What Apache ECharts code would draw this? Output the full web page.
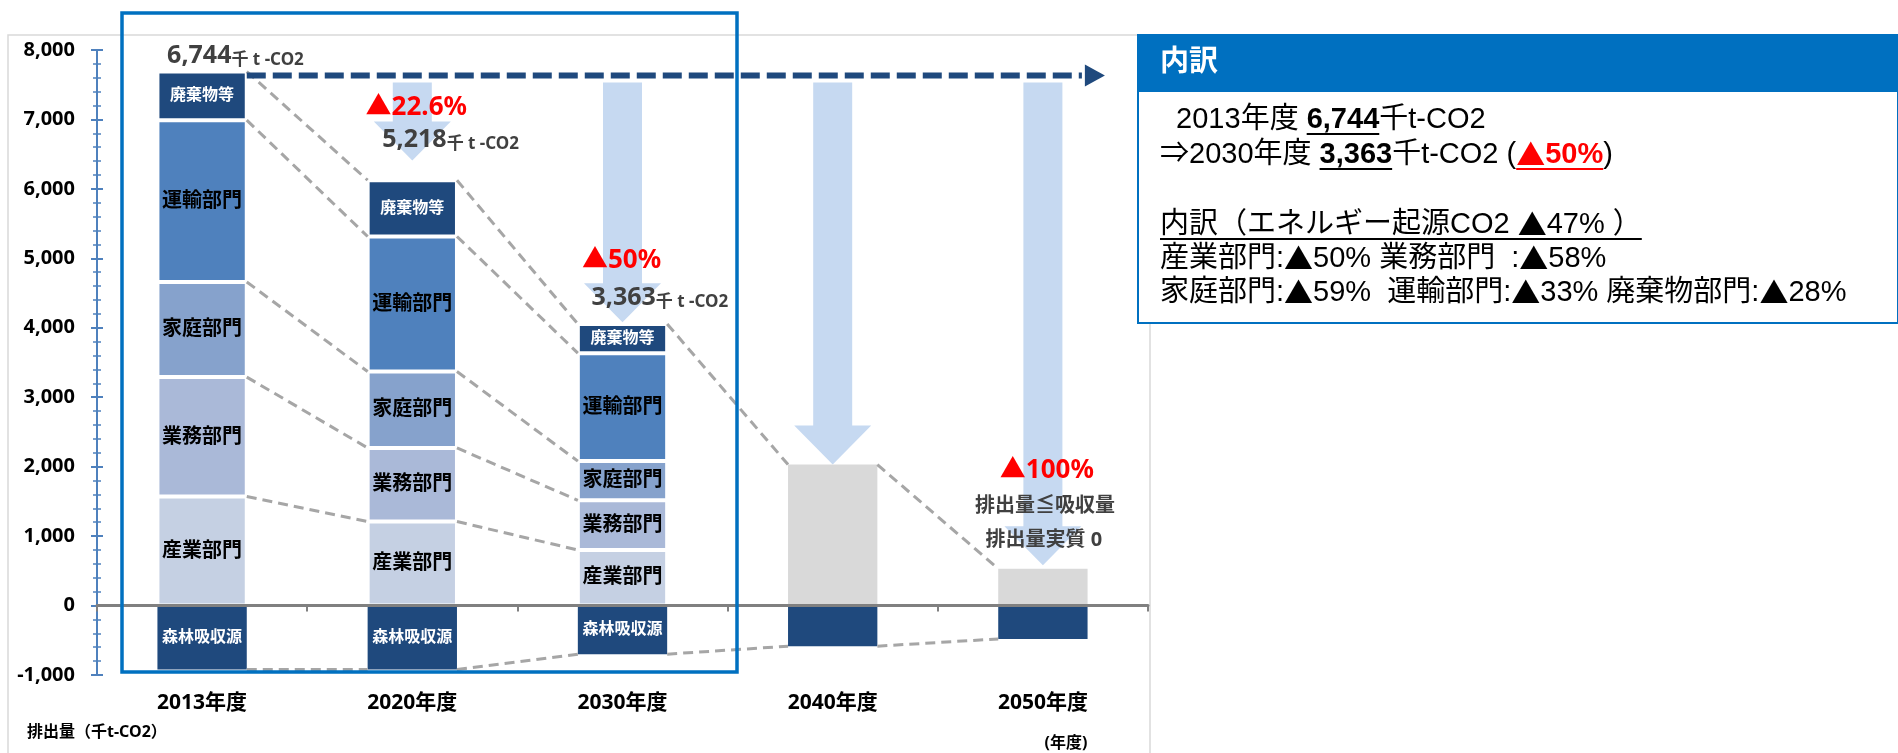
<!DOCTYPE html>
<html>
<head>
<meta charset="utf-8">
<title>排出量の推移</title>
<script src="https://cdn.jsdelivr.net/npm/echarts@6/dist/echarts.min.js"></script>
<style>
  html, body { margin: 0; padding: 0; background: #fff; }
  #main { width: 1898px; height: 753px; }
</style>
</head>
<body>
<div id="main"></div>
<script>
// 年度
var categories = ['2013年度', '2020年度', '2030年度', '2040年度', '2050年度'];
// 部門別排出量（千t-CO2）
var sangyo = [1570, 1210, 800, '-', '-'];
var gyomu = [1720, 1060, 715, '-', '-'];
var katei = [1370, 1100, 565, '-', '-'];
var unyu = [2330, 1945, 1555, '-', '-'];
var haiki = [700, 810, 420, '-', '-'];
// 2040・2050年度（内訳なし）
var future = ['-', '-', '-', 2030, 530];
// 森林吸収源
var shinrin = [-920, -920, -700, -585, -480];
// 削減矢印の先端
var arrowTip = [null, 6410, 4080, 2030, 580];
// 注記
var netTotals = ['6,744', '5,218', '3,363', '', ''];
var cutRates = ['', '▲22.6%', '▲50%', '', '▲100%'];
var zeroNotes = ['排出量≦吸収量', '排出量実質 0'];
// y軸
var yMin = -1000, yMax = 8000, yStep = 1000;

var FONT = "'Noto Sans', 'Noto Sans CJK JP', sans-serif";
var barRatio = 0.425;
var segments = [sangyo, gyomu, katei, unyu, haiki];

function isNum(v) { return typeof v === 'number'; }

// 積み上げの各上端
function cumTops(i) {
  var tops = [], s = 0;
  for (var k = 0; k < segments.length; k++) {
    if (isNum(segments[k][i])) { s += segments[k][i]; tops.push(s); }
  }
  if (isNum(future[i])) tops.push(future[i]);
  return tops;
}
function gross(i) { var t = cumTops(i); return t[t.length - 1]; }

// 点線の接続線
var connectors = [];
for (var i = 0; i < categories.length - 1; i++) {
  var a = cumTops(i), b = cumTops(i + 1);
  if (a.length === b.length) {
    for (var k = 0; k < a.length; k++) connectors.push([i, a[k], b[k]]);
  } else {
    connectors.push([i, a[a.length - 1], b[b.length - 1]]);
  }
  connectors.push([i, shinrin[i], shinrin[i + 1]]);
}

var arrowData = [];
var noteData = [];
for (var i = 0; i < categories.length; i++) {
  if (arrowTip[i] != null) arrowData.push([i, arrowTip[i]]);
  noteData.push([i, arrowTip[i] != null ? arrowTip[i] : gross(i)]);
}

// 注記の位置（カテゴリ中心・基準点からのずれ, px）
var totalPos = [[-35, -17], [-30, -22], [-31, -26]];
var cutPos = [null, [4, -53], [-1, -62], null, [4, -95]];
var notePos = [[2, -59], [1, -25]];

function baseLineY(api) {
  return api.coord([0, gross(0)])[1] + 4;
}

function renderArrow(params, api) {
  var i = api.value(0);
  var tip = api.coord([i, api.value(1)]);
  var top = baseLineY(api) + 7;
  var cx = tip[0], sw = 19.5, hw = 38.5, hl = 39;
  return {
    type: 'polygon',
    shape: {
      points: [[cx - sw, top], [cx + sw, top], [cx + sw, tip[1] - hl], [cx + hw, tip[1] - hl],
        [cx, tip[1]], [cx - hw, tip[1] - hl], [cx - sw, tip[1] - hl]]
    },
    style: { fill: '#c6d9f1' }
  };
}

function renderConnector(params, api) {
  var i = api.value(0);
  var half = api.size([1, 0])[0] * barRatio / 2;
  var p1 = api.coord([i, api.value(1)]);
  var p2 = api.coord([i + 1, api.value(2)]);
  return {
    type: 'line',
    shape: { x1: p1[0] + half, y1: p1[1], x2: p2[0] - half, y2: p2[1] },
    style: { stroke: '#a6a6a6', lineWidth: 3, lineDash: [10, 6] }
  };
}

function renderBaseLine(params, api) {
  var half = api.size([1, 0])[0] * barRatio / 2;
  var x0 = api.coord([0, 0])[0] + half;
  var x1 = api.coord([categories.length - 1, 0])[0] + 42;
  var y = baseLineY(api);
  return {
    type: 'group',
    children: [{
      type: 'line',
      shape: { x1: x0, y1: y, x2: x1 - 3, y2: y },
      style: { stroke: '#1f497d', lineWidth: 6, lineDash: [19, 7] }
    }, {
      type: 'polygon',
      shape: { points: [[x1, y - 11], [x1 + 20, y], [x1, y + 11]] },
      style: { fill: '#1f497d' }
    }]
  };
}

function renderNotes(params, api) {
  var i = api.value(0);
  var c = api.coord([i, api.value(1)]);
  var children = [];
  if (netTotals[i]) {
    children.push({
      type: 'text',
      x: c[0] + totalPos[i][0], y: c[1] + totalPos[i][1],
      style: {
        text: '{a|' + netTotals[i] + '}{b|千 t -CO2}',
        align: 'left', verticalAlign: 'middle',
        rich: {
          a: { fontFamily: FONT, fontWeight: 'bold', fontSize: 25, fill: '#404040', lineHeight: 28, verticalAlign: 'bottom' },
          b: { fontFamily: FONT, fontWeight: 'bold', fontSize: 17, fill: '#404040', lineHeight: 22, verticalAlign: 'bottom' }
        }
      }
    });
  }
  if (cutRates[i]) {
    children.push({
      type: 'text',
      x: c[0] + cutPos[i][0], y: c[1] + cutPos[i][1],
      style: {
        text: cutRates[i], align: 'center', verticalAlign: 'middle',
        fontFamily: FONT, fontWeight: 'bold', fontSize: 26, fill: '#ff0000'
      }
    });
  }
  if (i === categories.length - 1) {
    for (var n = 0; n < zeroNotes.length; n++) {
      children.push({
        type: 'text',
        x: c[0] + notePos[n][0], y: c[1] + notePos[n][1],
        style: {
          text: zeroNotes[n], align: 'center', verticalAlign: 'middle',
          fontFamily: FONT, fontWeight: 'bold', fontSize: 20, fill: '#404040'
        }
      });
    }
  }
  return { type: 'group', children: children };
}

function segSeries(name, data, color, labelColor, labelSize) {
  return {
    name: name,
    type: 'bar',
    stack: 'total',
    data: data,
    barWidth: (barRatio * 100) + '%',
    itemStyle: { color: color, borderColor: '#fff', borderWidth: 2 },
    label: {
      show: true, position: 'inside', formatter: name,
      color: labelColor, fontSize: labelSize, fontWeight: 'bold', fontFamily: FONT
    },
    z: 2
  };
}

// 右側の内訳パネル
function panelFont(bold, mark) {
  var fam = mark ? "'Noto Sans CJK JP', sans-serif" : "'Liberation Sans', 'Noto Sans CJK JP', sans-serif";
  return (bold ? 'bold ' : '') + '29px ' + fam;
}
// [文字, 太字, 赤, 下線]
var panelLines = [
  { y: 120, frags: [['  2013年度 ', 0, 0, 0], ['6,744', 1, 0, 1], ['千t-CO2', 0, 0, 0]] },
  { y: 155, frags: [['⇒2030年度 ', 0, 0, 0], ['3,363', 1, 0, 1], ['千t-CO2 (', 0, 0, 0], ['▲50%', 1, 1, 1], [')', 0, 0, 0]] },
  { y: 225, frags: [['内訳（エネルギー起源CO2 ▲47% ）', 0, 0, 1]] },
  { y: 259, frags: [['産業部門:▲50% 業務部門  :▲58%', 0, 0, 0]] },
  { y: 293, frags: [['家庭部門:▲59%  運輸部門:▲33% 廃棄物部門:▲28%', 0, 0, 0]] }
];
var measureCtx = document.createElement('canvas').getContext('2d');
function textWidth(str, font) {
  measureCtx.font = font;
  return measureCtx.measureText(str).width;
}

var graphics = [
  // グラフ外枠
  { type: 'rect', shape: { x: 8, y: 35, width: 1142, height: 740 }, style: { fill: null, stroke: '#d9d9d9', lineWidth: 1.5 }, z: 0 },
  // 強調枠
  { type: 'rect', shape: { x: 122, y: 13, width: 615, height: 659 }, style: { fill: null, stroke: '#0070c0', lineWidth: 3.5 }, z: 100 },
  { type: 'text', x: 27, y: 732, style: { text: '排出量（千t-CO2）', fontFamily: FONT, fontWeight: 'bold', fontSize: 16, fill: '#000', verticalAlign: 'middle' }, z: 100 },
  { type: 'text', x: 1066, y: 743, style: { text: '(年度)', fontFamily: FONT, fontWeight: 'bold', fontSize: 16, fill: '#000', align: 'center', verticalAlign: 'middle' }, z: 100 },
  // パネル
  { type: 'rect', shape: { x: 1138, y: 35, width: 760, height: 288 }, style: { fill: '#fff', stroke: '#0070c0', lineWidth: 2 }, z: 100 },
  { type: 'rect', shape: { x: 1137, y: 35, width: 761, height: 57 }, style: { fill: '#0070c0' }, z: 101 },
  { type: 'text', x: 1160, y: 63, style: { text: '内訳', font: panelFont(true, false), fill: '#fff', verticalAlign: 'middle' }, z: 102 }
];

panelLines.forEach(function (line) {
  var x = 1160;
  line.frags.forEach(function (f) {
    var color = f[2] ? '#ff0000' : '#000';
    var start = x;
    var lead = f[0].length - f[0].replace(/^\s+/, '').length;
    if (lead) start += textWidth(f[0].slice(0, lead), panelFont(f[1], false));
    f[0].split(/(▲)/).forEach(function (piece) {
      if (!piece) return;
      var font = panelFont(f[1], piece === '▲');
      graphics.push({ type: 'text', x: x, y: line.y, style: { text: piece, font: font, fill: color, verticalAlign: 'middle' }, z: 102 });
      x += textWidth(piece, font);
    });
    if (f[3]) {
      graphics.push({
        type: 'line', shape: { x1: start, y1: line.y + 14, x2: x, y2: line.y + 14 },
        style: { stroke: color, lineWidth: 2 }, z: 102
      });
    }
  });
});

var myChart = echarts.init(document.getElementById('main'));
var tickColor = '#4f81bd';

var option = {
  animation: false,
  backgroundColor: '#fff',
  grid: { left: 97, right: 750, top: 50, bottom: 78, containLabel: false },
  xAxis: [{
    type: 'category',
    data: categories,
    position: 'bottom',
    axisLine: { show: false, onZero: false },
    axisTick: { show: false },
    axisLabel: { margin: 18, color: '#000', fontWeight: 'bold', fontSize: 21, fontFamily: FONT }
  }, {
    type: 'category',
    data: categories,
    position: 'bottom',
    z: 10,
    axisLine: { show: true, onZero: true, lineStyle: { color: '#808080', width: 3 } },
    axisTick: { show: true, length: 6, lineStyle: { color: '#808080', width: 2 } },
    axisLabel: { show: false }
  }],
  yAxis: [{
    type: 'value',
    min: yMin, max: yMax, interval: yStep,
    position: 'left',
    axisLine: { show: true, lineStyle: { color: tickColor, width: 2 } },
    axisTick: { show: true, length: 6, lineStyle: { color: tickColor, width: 2 } },
    minorTick: { show: true, splitNumber: 5, length: 4, lineStyle: { color: tickColor, width: 1.5 } },
    splitLine: { show: false },
    axisLabel: {
      margin: 22, color: '#000', fontWeight: 'bold', fontSize: 20, fontFamily: FONT,
      formatter: function (v) { return v.toLocaleString('en-US'); }
    }
  }, {
    type: 'value',
    min: yMin, max: yMax, interval: yStep,
    position: 'left',
    axisLine: { show: false },
    axisTick: { show: true, inside: true, length: 6, lineStyle: { color: tickColor, width: 2 } },
    minorTick: { show: true, splitNumber: 5, length: 4, lineStyle: { color: tickColor, width: 1.5 } },
    splitLine: { show: false },
    axisLabel: { show: false }
  }],
  series: [
    {
      name: 'arrows', type: 'custom', renderItem: renderArrow, data: arrowData,
      encode: { x: 0, y: 1 }, z: 1, silent: true
    },
    segSeries('産業部門', sangyo, '#c5d0e3', '#000', 20),
    segSeries('業務部門', gyomu, '#aab9d8', '#000', 20),
    segSeries('家庭部門', katei, '#86a2cc', '#000', 20),
    segSeries('運輸部門', unyu, '#4f81bd', '#000', 20),
    segSeries('廃棄物等', haiki, '#1f497d', '#fff', 16),
    {
      name: '2040-2050', type: 'bar', stack: 'total', data: future,
      barWidth: (barRatio * 100) + '%',
      itemStyle: { color: '#d9d9d9' }, z: 2
    },
    {
      name: '森林吸収源', type: 'bar', stack: 'total', data: shinrin,
      barWidth: (barRatio * 100) + '%',
      itemStyle: { color: '#1f497d' },
      label: {
        show: true, position: 'inside',
        formatter: function (p) { return p.dataIndex < 3 ? '森林吸収源' : ''; },
        color: '#fff', fontSize: 16, fontWeight: 'bold', fontFamily: FONT
      },
      z: 2
    },
    {
      name: 'connectors', type: 'custom', renderItem: renderConnector, data: connectors,
      encode: { x: 0, y: [1, 2] }, z: 3, silent: true
    },
    {
      name: 'baseline', type: 'custom', renderItem: renderBaseLine, data: [[0, gross(0)]],
      encode: { x: 0, y: 1 }, z: 4, silent: true
    },
    {
      name: 'notes', type: 'custom', renderItem: renderNotes, data: noteData,
      encode: { x: 0, y: 1 }, z: 5, silent: true
    }
  ],
  graphic: graphics
};

myChart.setOption(option);

window.addEventListener('resize', function () {
  myChart.resize();
});
</script>
</body>
</html>
